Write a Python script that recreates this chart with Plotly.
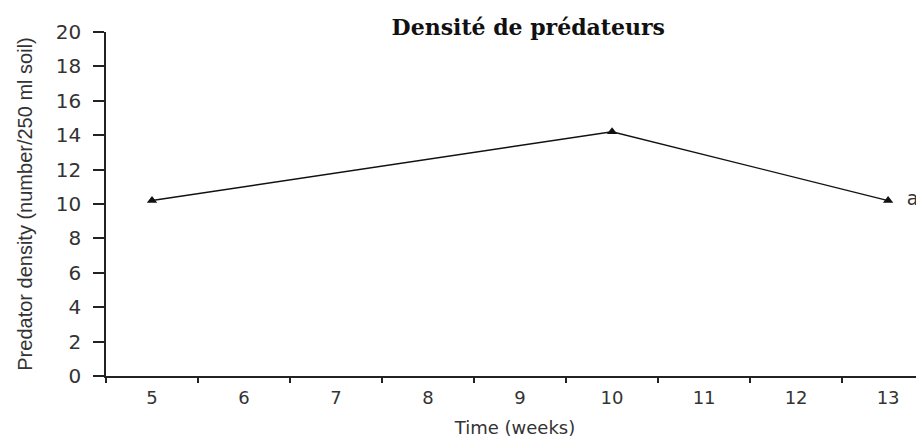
import plotly.graph_objects as go

weeks = ["5", "6", "7", "8", "9", "10", "11", "12", "13"]
sample_weeks = ["5", "10", "13"]
density = [10.2, 14.2, 10.2]
point_labels = ["", "", "a"]
y_ticks = [0, 2, 4, 6, 8, 10, 12, 14, 16, 18, 20]

TICK_FONT = "DejaVu Sans, Liberation Sans, Arial"

fig = go.Figure()
fig.add_trace(go.Scatter(
    x=sample_weeks, y=density, mode="lines+markers+text",
    text=point_labels, texttemplate="  %{text}", textposition="middle right",
    textfont=dict(family=TICK_FONT, size=19, color="#333333"),
    line=dict(color="#111111", width=1.4),
    marker=dict(symbol="triangle-up", size=9, color="#111111"),
    showlegend=False, cliponaxis=False,
))

fig.update_layout(
    width=916, height=430,
    margin=dict(l=98, r=0, t=24, b=62, autoexpand=False),
    paper_bgcolor="white", plot_bgcolor="white",
    title=dict(text="<b>Densité de prédateurs</b>", x=0.568, xanchor="center",
               y=0.956, yanchor="middle",
               font=dict(family="DejaVu Serif", size=22, color="#111111")),
    xaxis=dict(
        type="category", categoryorder="array", categoryarray=weeks,
        range=[-0.5, 8.39], tickson="boundaries", automargin=False,
        showline=True, linecolor="#222222", linewidth=1.5,
        ticks="outside", ticklen=5, tickwidth=1.5, tickcolor="#222222",
        showgrid=False, zeroline=False, ticklabelstandoff=5,
        tickfont=dict(family=TICK_FONT, size=18, color="#333333"),
        title=dict(text="Time (weeks)", standoff=20,
                   font=dict(family=TICK_FONT, size=18, color="#333333")),
    ),
    yaxis=dict(
        range=[0, 20], tickvals=y_ticks, automargin=False,
        showline=True, linecolor="#222222", linewidth=1.5,
        ticks="outside", ticklen=11, tickwidth=1.5, tickcolor="#222222",
        showgrid=False, zeroline=False, ticklabelstandoff=8,
        tickfont=dict(family=TICK_FONT, size=20, color="#333333"),
        title=dict(text="Predator density (number/250 ml soil)", standoff=18,
                   font=dict(family="Liberation Sans, Arial", size=20, color="#333333")),
    ),
)

fig.write_html("out.html")
